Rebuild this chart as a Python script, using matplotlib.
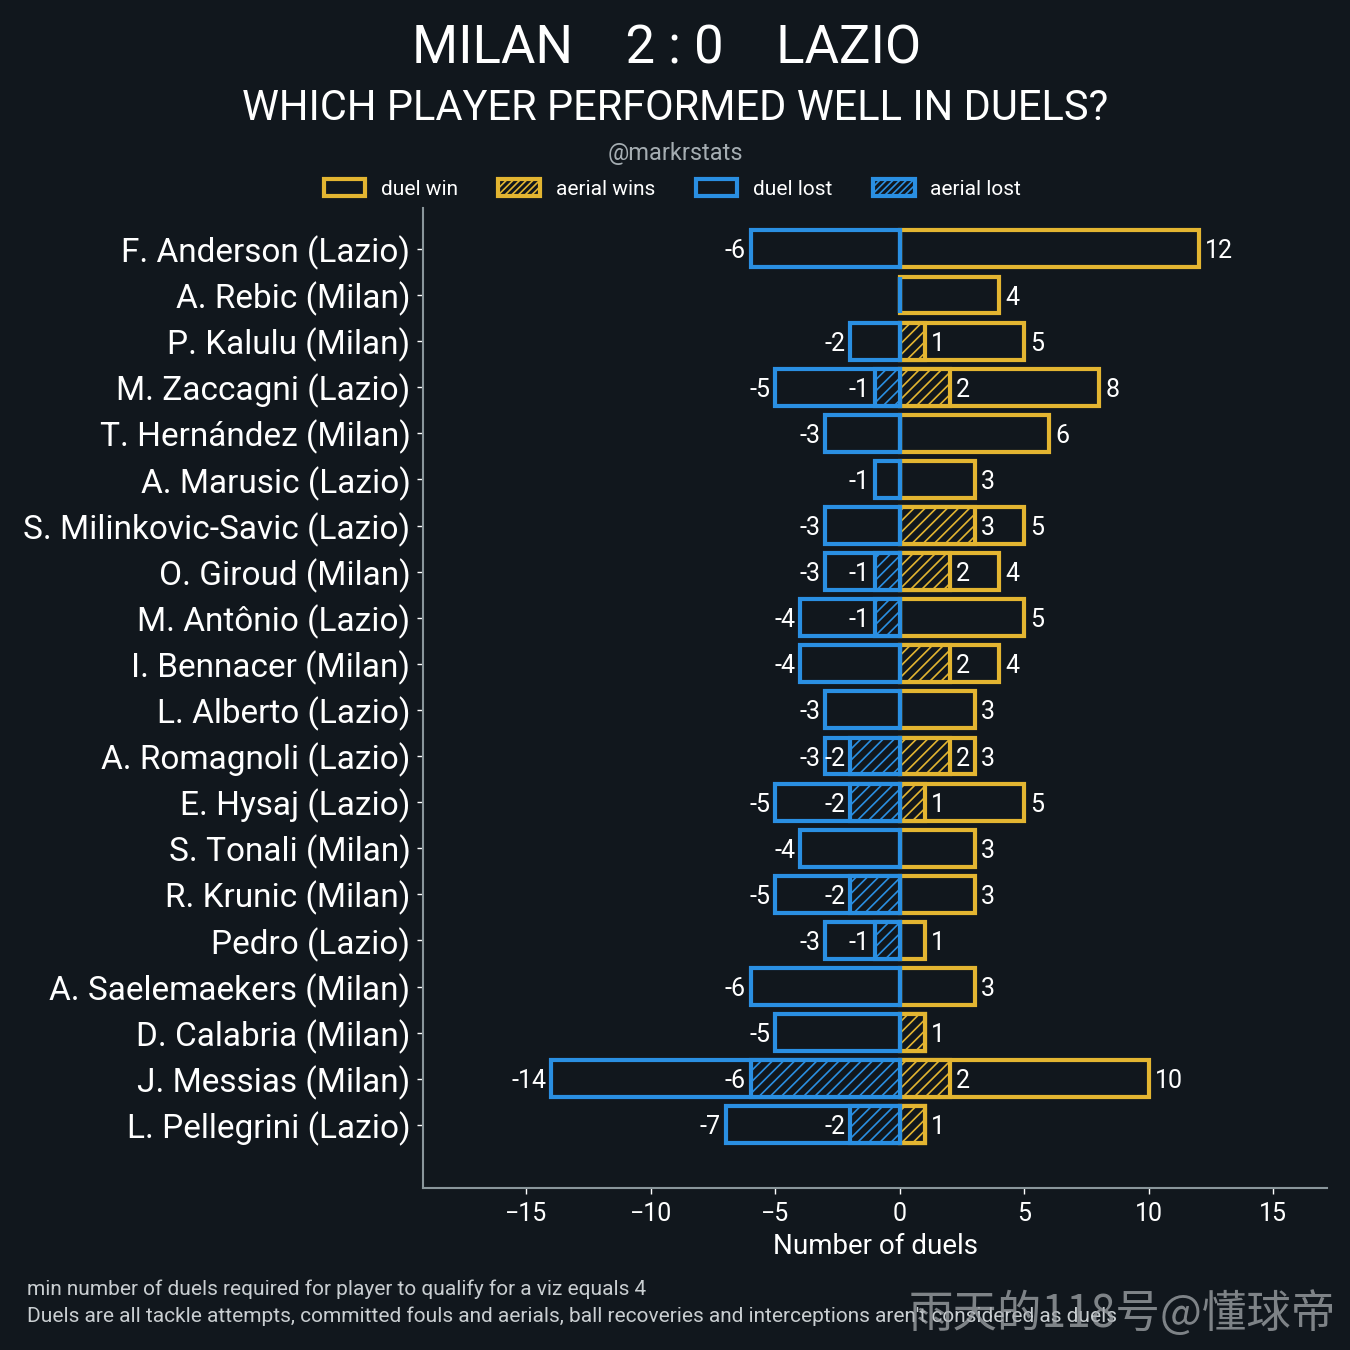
import matplotlib
matplotlib.use("Agg")
import matplotlib.pyplot as plt
from matplotlib.patches import Patch

# dados (de cima para baixo)
players = ["F. Anderson (Lazio)", "A. Rebic (Milan)", "P. Kalulu (Milan)", "M. Zaccagni (Lazio)",
           "T. Hernández (Milan)", "A. Marusic (Lazio)", "S. Milinkovic-Savic (Lazio)", "O. Giroud (Milan)",
           "M. Antônio (Lazio)", "I. Bennacer (Milan)", "L. Alberto (Lazio)", "A. Romagnoli (Lazio)",
           "E. Hysaj (Lazio)", "S. Tonali (Milan)", "R. Krunic (Milan)", "Pedro (Lazio)",
           "A. Saelemaekers (Milan)", "D. Calabria (Milan)", "J. Messias (Milan)", "L. Pellegrini (Lazio)"]
duel_win = [12, 4, 5, 8, 6, 3, 5, 4, 5, 4, 3, 3, 5, 3, 3, 1, 3, 1, 10, 1]
aerial_win = [0, 0, 1, 2, 0, 0, 3, 2, 0, 2, 0, 2, 1, 0, 0, 0, 0, 1, 2, 1]
duel_lost = [-6, 0, -2, -5, -3, -1, -3, -3, -4, -4, -3, -3, -5, -4, -5, -3, -6, -5, -14, -7]
aerial_lost = [0, 0, 0, -1, 0, 0, 0, -1, -1, 0, 0, -2, -2, 0, -2, -1, 0, 0, -6, -2]

bg = "#11171d"
yellow = "#e3b531"
blue = "#2a8fe2"
grey = "#8a969b"

plt.rcParams["font.family"] = ["Roboto", "DejaVu Sans"]
plt.rcParams["hatch.linewidth"] = 1.2

fig = plt.figure(figsize=(13.5, 13.5), dpi=100, facecolor=bg)
ax = fig.add_axes([0.3133, 0.12, 0.670, 0.726], facecolor=bg)

n = len(players)
ypos = [n - 1 - i for i in range(n)]
h = 0.8
lw = 3

ax.barh(ypos, duel_win, height=h, color=bg, edgecolor=yellow, linewidth=lw, zorder=2)
ax.barh(ypos, aerial_win, height=h, color=bg, edgecolor=yellow, linewidth=lw, hatch="///", zorder=3)
ax.barh(ypos, duel_lost, height=h, color=bg, edgecolor=blue, linewidth=lw, zorder=4)
ax.barh(ypos, aerial_lost, height=h, color=bg, edgecolor=blue, linewidth=lw, hatch="///", zorder=5)

# rótulos dos valores
fs = 18
for y, w, a, l, al in zip(ypos, duel_win, aerial_win, duel_lost, aerial_lost):
    if w:
        ax.text(w + 0.25, y, str(w), ha="left", va="center_baseline", color="white", fontsize=fs, zorder=6)
    if a and a != w:
        ax.text(a + 0.25, y, str(a), ha="left", va="center_baseline", color="white", fontsize=fs, zorder=6)
    if l:
        ax.text(l - 0.2, y, str(l), ha="right", va="center_baseline", color="white", fontsize=fs, zorder=6)
    if al and al != l:
        ax.text(al - 0.2, y, str(al), ha="right", va="center_baseline", color="white", fontsize=fs, zorder=6)

ax.set_xlim(-19.16, 17.18)
ax.set_ylim(-1.37, 19.89)
ax.set_yticks(ypos)
ax.set_yticklabels(players, fontsize=24, color="white")
ax.set_xticks([-15, -10, -5, 0, 5, 10, 15])
ax.set_xticklabels(["\u221215", "\u221210", "\u22125", "0", "5", "10", "15"], fontsize=18, color="white")
ax.tick_params(axis="both", colors="white", length=4, width=1)
ax.tick_params(axis="x", pad=6)
ax.tick_params(axis="y", pad=5)
ax.set_xlabel("Number of duels", fontsize=20, color="white", labelpad=5)

for s in ["top", "right"]:
    ax.spines[s].set_visible(False)
for s in ["left", "bottom"]:
    ax.spines[s].set_color(grey)
    ax.spines[s].set_linewidth(1.5)

# títulos
fig.text(0.494, 0.964, "MILAN    2 : 0    LAZIO", ha="center", va="center", fontsize=38, color="white")
fig.text(0.5, 0.920, "WHICH PLAYER PERFORMED WELL IN DUELS?", ha="center", va="center", fontsize=30, color="white")
fig.text(0.5, 0.886, "@markrstats", ha="center", va="center", fontsize=17, color="#a5adb2")

handles = [Patch(facecolor=bg, edgecolor=yellow, linewidth=3, label="duel win"),
           Patch(facecolor=bg, edgecolor=yellow, linewidth=3, hatch="/////", label="aerial wins"),
           Patch(facecolor=bg, edgecolor=blue, linewidth=3, label="duel lost"),
           Patch(facecolor=bg, edgecolor=blue, linewidth=3, hatch="/////", label="aerial lost")]
leg = fig.legend(handles=handles, loc="center", bbox_to_anchor=(0.498, 0.860), ncol=4, frameon=False,
                 fontsize=15, handlelength=2.0, handleheight=0.9, columnspacing=1.95, handletextpad=0.75)
for t in leg.get_texts():
    t.set_color("white")

# notas de rodapé
fig.text(0.020, 0.045, "min number of duels required for player to qualify for a viz equals 4",
         ha="left", va="center", fontsize=15, color="#c9ced1")
fig.text(0.020, 0.025, "Duels are all tackle attempts, committed fouls and aerials, ball recoveries and "
         "interceptions aren't considered as duels", ha="left", va="center", fontsize=15, color="#c9ced1")

fig.text(0.99, 0.027, "雨天的118号@懂球帝", ha="right", va="center", fontsize=32, color="#a4a8ac",
         alpha=0.75, family=["Noto Sans CJK SC", "DejaVu Sans"])

fig.savefig("out.png", dpi=100, facecolor=bg)
